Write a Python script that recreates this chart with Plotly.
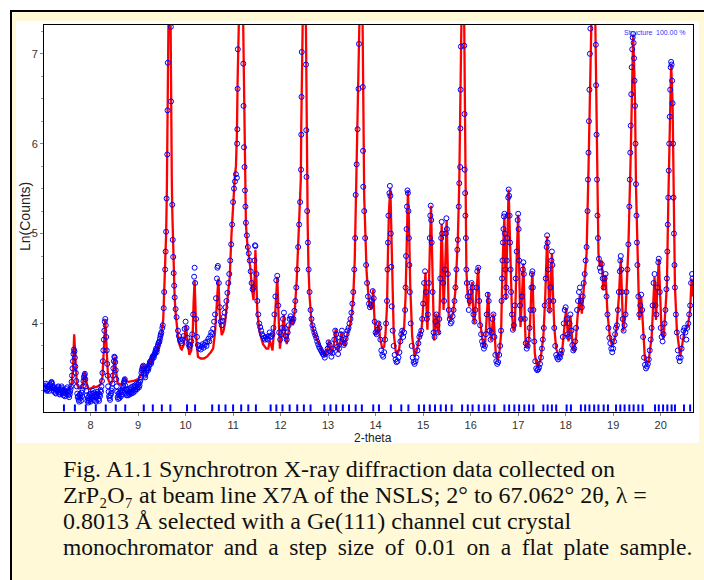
import plotly.graph_objects as go

# ---------------- data ----------------
# calculated profile (2-theta, ln counts)
calc_points = [
    (7.02,3.30),(7.10,3.29),(7.20,3.28),(7.30,3.27),(7.40,3.26),(7.50,3.26),(7.56,3.27),(7.60,3.32),
    (7.63,3.50),(7.655,3.88),(7.68,3.55),(7.71,3.33),(7.75,3.28),(7.80,3.29),(7.84,3.33),(7.86,3.42),
    (7.88,3.47),(7.90,3.40),(7.93,3.30),(7.97,3.27),(8.02,3.28),(8.07,3.30),(8.11,3.29),(8.15,3.30),
    (8.18,3.31),(8.21,3.32),(8.25,3.40),(8.28,3.70),(8.31,4.04),(8.34,3.70),(8.37,3.38),(8.42,3.32),
    (8.46,3.36),(8.49,3.55),(8.51,3.63),(8.53,3.50),(8.57,3.34),(8.62,3.32),(8.67,3.33),(8.70,3.37),
    (8.72,3.40),(8.75,3.36),(8.80,3.35),(8.90,3.36),(9.00,3.38),(9.06,3.42),(9.09,3.51),(9.11,3.54),
    (9.13,3.50),(9.18,3.52),(9.25,3.56),(9.32,3.62),(9.40,3.70),(9.46,3.80),(9.50,3.90),
    (9.53,4.05),(9.55,4.30),(9.57,4.58),(9.59,4.98),(9.605,5.45),(9.615,5.95),(9.62,6.5),(9.63,7.3),
    (9.655,8.2),(9.685,7.3),(9.69,6.6),(9.70,6.1),(9.71,5.6),(9.72,5.25),(9.735,4.85),(9.75,4.55),
    (9.77,4.28),(9.79,4.12),(9.82,3.92),(9.85,3.80),(9.90,3.72),
    (9.92,3.71),(9.96,3.76),(9.99,3.90),(10.01,3.98),(10.04,3.80),(10.08,3.65),(10.12,3.70),(10.15,3.90),
    (10.17,4.25),(10.19,4.48),(10.21,4.15),(10.23,3.80),(10.26,3.63),(10.32,3.61),(10.385,3.61),
    (10.45,3.63),(10.53,3.68),(10.58,3.72),(10.62,3.90),(10.65,4.16),(10.69,4.50),(10.72,4.10),
    (10.76,3.87),(10.80,3.92),(10.83,4.00),(10.86,4.16),(10.93,4.52),(10.965,4.98),(11.00,5.39),
    (11.035,5.62),(11.06,5.75),(11.08,6.1),(11.095,6.7),(11.107,7.32),(11.16,8.3),(11.213,7.32),
    (11.225,6.7),(11.24,5.9),(11.25,5.45),(11.27,5.10),(11.30,4.88),(11.36,4.63),(11.40,4.37),
    (11.43,4.26),(11.455,4.55),(11.47,4.82),(11.49,4.50),(11.51,4.12),(11.56,3.90),(11.63,3.77),
    (11.70,3.72),(11.74,3.72),(11.775,3.81),(11.80,3.74),(11.83,3.70),(11.88,4.05),(11.93,4.52),
    (11.96,4.05),(11.985,3.72),(12.03,3.90),(12.07,4.10),(12.10,3.85),(12.13,3.77),(12.18,3.95),
    (12.22,4.05),(12.26,3.98),(12.30,4.16),(12.34,4.49),(12.37,4.90),(12.41,5.34),(12.425,5.60),
    (12.435,6.2),(12.445,7.3),(12.49,8.3),(12.533,7.3),(12.545,6.2),(12.555,5.5),(12.57,5.1),
    (12.585,4.65),(12.61,4.30),(12.65,4.02),(12.70,3.90),(12.76,3.83),(12.86,3.70),(12.93,3.64),
    (12.98,3.70),(13.02,3.81),(13.05,3.70),(13.08,3.66),(13.12,3.76),(13.16,3.94),(13.19,3.75),
    (13.21,3.68),(13.25,3.78),(13.28,3.90),(13.32,3.78),(13.35,3.75),(13.39,3.85),(13.42,3.90),
    (13.46,3.98),(13.50,4.12),(13.53,4.31),(13.56,4.70),(13.58,5.30),(13.60,5.75),(13.625,6.4),
    (13.648,7.32),(13.69,8.2),(13.726,7.32),(13.735,6.6),(13.745,5.8),(13.76,5.40),(13.775,5.15),
    (13.81,4.57),(13.865,4.20),(13.915,4.16),(13.95,4.38),(13.975,4.05),(14.006,3.87),(14.03,3.90),
    (14.055,3.94),(14.07,4.02),(14.09,3.85),
    (14.14,3.72),(14.18,3.74),(14.21,3.90),(14.24,4.20),(14.26,4.80),(14.28,5.25),(14.31,5.51),
    (14.33,5.05),(14.35,4.35),(14.38,3.90),(14.42,3.70),(14.45,3.65),(14.49,3.70),(14.53,3.85),
    (14.57,3.93),(14.60,3.95),(14.63,4.30),(14.66,5.10),(14.68,5.48),(14.70,5.15),(14.73,4.40),
    (14.77,3.85),(14.82,3.63),(14.86,3.68),(14.90,3.80),(14.93,3.87),(14.97,3.95),(15.00,4.20),
    (15.03,4.50),(15.05,4.57),(15.075,4.10),(15.09,3.93),(15.12,4.40),(15.145,5.05),(15.165,5.31),
    (15.185,4.85),(15.21,4.05),(15.23,3.81),(15.26,4.00),(15.28,4.11),(15.30,3.95),(15.33,3.88),
    (15.355,4.30),(15.375,4.85),(15.39,5.11),(15.41,4.70),(15.43,4.15),(15.46,4.55),(15.48,4.95),
    (15.495,5.15),(15.515,4.70),(15.54,4.07),(15.58,4.05),(15.63,4.11),(15.68,4.37),(15.73,4.93),
    (15.76,5.56),(15.78,6.30),(15.796,7.32),(15.83,8.3),(15.865,7.32),(15.875,6.50),(15.885,5.93),
    (15.90,5.00),(15.91,4.60),(15.935,4.33),(15.97,4.19),(16.00,4.30),(16.03,4.46),(16.06,4.05),
    (16.08,4.00),(16.11,4.25),(16.14,4.55),(16.16,4.63),(16.19,4.05),(16.22,3.93),(16.26,3.78),
    (16.30,3.74),(16.335,4.00),(16.37,4.35),(16.40,3.95),(16.43,3.81),(16.48,4.11),(16.51,3.75),
    (16.53,3.66),(16.57,3.59),(16.61,3.70),(16.64,3.88),(16.67,4.63),(16.71,5.19),(16.74,4.26),
    (16.77,4.90),(16.80,5.49),(16.83,4.90),(16.87,4.10),(16.90,3.92),(16.93,3.95),(16.97,4.75),
    (17.00,5.21),(17.03,4.40),(17.05,3.96),(17.08,4.30),(17.11,4.67),(17.14,4.05),(17.16,3.74),
    (17.21,3.74),(17.25,4.00),(17.28,4.40),(17.30,4.57),(17.33,4.00),(17.35,3.67),(17.38,3.56),
    (17.42,3.52),(17.47,3.60),(17.53,3.85),(17.57,4.30),(17.61,4.97),(17.64,4.40),(17.66,4.11),
    (17.69,4.50),(17.71,4.78),(17.735,4.30),(17.76,3.96),(17.80,3.72),(17.85,3.65),(17.92,3.66),
    (17.96,3.93),(18.01,4.17),(18.04,3.90),(18.06,3.80),(18.10,4.09),(18.13,3.85),(18.15,3.72),
    (18.18,3.69),(18.22,3.85),(18.25,4.08),(18.30,4.32),(18.34,4.11),(18.39,4.41),(18.44,4.78),
    (18.48,5.71),(18.505,6.82),(18.53,7.32),(18.58,8.4),(18.625,7.32),(18.64,6.64),(18.66,5.52),
    (18.69,4.78),(18.72,4.63),(18.76,4.70),(18.79,4.37),(18.84,4.54),(18.88,4.11),(18.93,3.85),
    (18.98,3.74),(19.04,3.85),(19.07,3.94),(19.12,4.30),(19.16,4.72),(19.19,4.20),(19.21,3.91),
    (19.26,4.11),(19.32,4.85),(19.37,5.89),(19.40,6.93),(19.42,7.21),(19.44,6.90),(19.46,6.45),
    (19.48,5.52),(19.52,4.59),(19.55,4.04),(19.59,4.30),(19.62,4.04),(19.67,3.59),(19.74,3.56),
    (19.81,3.85),(19.87,4.52),(19.90,4.04),(19.96,4.72),(20.02,3.89),(20.06,3.83),(20.13,4.41),
    (20.16,5.34),(20.19,6.26),(20.22,6.89),(20.25,6.45),(20.27,5.34),(20.30,4.41),(20.34,3.93),
    (20.41,3.63),(20.48,3.85),(20.51,3.93),(20.57,3.96),(20.62,4.15),(20.65,4.50),(20.68,4.30),
]

# observed data points (2-theta, ln counts)
obs_points = [
    (7.03,3.30),(7.05,3.27),(7.07,3.31),(7.09,3.26),(7.11,3.29),(7.13,3.25),(7.15,3.32),(7.17,3.34),
    (7.19,3.33),(7.21,3.28),(7.23,3.24),(7.25,3.27),(7.27,3.22),(7.29,3.26),(7.31,3.29),(7.33,3.24),
    (7.35,3.21),(7.37,3.27),(7.39,3.30),(7.41,3.24),(7.43,3.20),(7.45,3.25),(7.47,3.22),(7.49,3.27),
    (7.51,3.29),(7.53,3.20),(7.55,3.18),(7.57,3.24),(7.59,3.30),(7.61,3.42),(7.63,3.58),(7.65,3.71),
    (7.67,3.62),(7.69,3.45),(7.71,3.30),(7.73,3.18),(7.75,3.15),(7.77,3.21),(7.79,3.17),(7.81,3.23),
    (7.83,3.26),(7.85,3.36),(7.87,3.42),(7.89,3.38),(7.91,3.25),(7.93,3.14),(7.95,3.12),(7.97,3.19),
    (7.99,3.15),(8.01,3.22),(8.03,3.17),(8.05,3.25),(8.07,3.20),(8.09,3.14),(8.11,3.21),(8.13,3.18),
    (8.15,3.24),(8.17,3.16),(8.19,3.21),(8.21,3.26),(8.23,3.30),(8.25,3.45),(8.27,3.70),(8.29,3.92),
    (8.31,4.05),(8.33,3.85),(8.35,3.55),(8.37,3.30),(8.39,3.19),(8.41,3.15),(8.43,3.22),(8.45,3.28),
    (8.47,3.42),(8.49,3.58),(8.51,3.62),(8.53,3.48),(8.55,3.30),(8.57,3.18),(8.59,3.22),(8.61,3.17),
    (8.63,3.25),(8.65,3.21),(8.67,3.26),(8.69,3.30),(8.71,3.36),(8.73,3.31),(8.75,3.22),(8.77,3.26),
    (8.79,3.20),(8.81,3.27),(8.83,3.23),(8.85,3.29),(8.87,3.24),(8.89,3.30),(8.91,3.26),(8.93,3.31),
    (8.95,3.27),(8.97,3.33),(8.99,3.29),(9.01,3.34),(9.03,3.31),(9.05,3.37),(9.07,3.45),(9.09,3.50),
    (9.11,3.53),(9.13,3.44),(9.15,3.40),(9.17,3.46),(9.19,3.50),(9.21,3.48),(9.23,3.53),(9.25,3.57),
    (9.27,3.55),(9.29,3.60),(9.31,3.63),(9.33,3.62),(9.35,3.66),(9.37,3.70),(9.39,3.68),(9.41,3.74),
    (9.43,3.78),(9.45,3.80),(9.47,3.86),(9.49,3.90),
    (9.51,3.95),(9.52,3.98),(9.54,4.17),(9.55,4.35),(9.57,4.60),(9.58,4.80),(9.59,5.02),(9.60,5.39),
    (9.615,5.88),(9.62,6.37),(9.625,6.90),(9.69,7.30),(9.695,6.47),(9.72,5.32),(9.73,4.93),(9.74,4.74),
    (9.75,4.56),(9.76,4.42),(9.77,4.29),(9.79,4.16),(9.81,4.07),(9.84,3.92),(9.86,3.86),(9.88,3.82),
    (9.90,3.80),(9.92,3.78),(9.94,3.82),(9.96,3.86),(9.98,3.94),(10.00,4.02),(10.02,3.95),(10.04,3.84),
    (10.06,3.77),(10.08,3.74),(10.10,3.76),(10.12,3.80),(10.14,3.88),(10.16,4.10),(10.18,4.52),
    (10.19,4.62),(10.20,4.45),(10.22,4.05),(10.24,3.85),(10.26,3.76),(10.28,3.72),(10.30,3.75),
    (10.32,3.71),(10.34,3.74),(10.36,3.77),(10.38,3.73),(10.40,3.76),(10.42,3.79),(10.44,3.75),
    (10.46,3.80),(10.48,3.83),(10.50,3.80),(10.52,3.86),(10.54,3.90),(10.56,3.88),(10.58,3.94),
    (10.60,4.02),(10.62,4.10),(10.64,4.28),(10.66,4.50),(10.67,4.62),(10.68,4.64),(10.70,4.45),
    (10.72,4.18),(10.74,4.02),(10.76,3.98),(10.78,4.03),(10.80,4.07),(10.82,4.12),(10.84,4.18),
    (10.86,4.25),(10.88,4.34),(10.90,4.45),(10.92,4.55),(10.94,4.70),(10.96,4.88),(10.98,5.10),
    (11.00,5.35),(11.02,5.50),(11.04,5.58),(11.06,5.66),(11.08,5.62),(11.085,6.00),(11.09,6.16),
    (11.095,6.61),(11.10,7.05),(11.215,6.89),(11.22,6.42),(11.23,5.96),(11.24,5.74),(11.25,5.48),
    (11.26,5.30),(11.27,5.12),(11.29,4.98),(11.31,4.85),(11.33,4.78),(11.35,4.70),(11.37,4.58),
    (11.39,4.45),(11.41,4.38),(11.43,4.40),(11.45,4.70),(11.46,4.87),(11.47,4.86),(11.49,4.55),
    (11.51,4.25),(11.53,4.10),(11.55,4.00),(11.57,3.96),(11.59,3.92),(11.61,3.88),(11.63,3.86),
    (11.65,3.84),(11.67,3.82),(11.69,3.85),(11.71,3.83),(11.73,3.82),(11.75,3.86),(11.77,3.90),
    (11.79,3.85),(11.81,3.86),(11.83,3.88),(11.85,3.95),(11.87,4.10),(11.89,4.30),(11.91,4.48),
    (11.93,4.53),(11.95,4.20),(11.97,3.90),(11.99,3.82),(12.01,3.88),(12.03,3.95),(12.05,4.05),
    (12.07,4.12),(12.09,3.95),(12.11,3.86),(12.13,3.82),(12.15,3.90),(12.17,3.98),(12.19,4.05),
    (12.21,4.08),(12.23,4.05),(12.25,4.02),(12.27,4.05),(12.29,4.14),(12.31,4.25),(12.33,4.40),
    (12.35,4.60),(12.37,4.85),(12.39,5.10),(12.41,5.35),(12.43,5.71),(12.435,6.10),(12.44,6.52),
    (12.445,7.02),(12.535,6.88),(12.54,6.15),(12.545,5.63),(12.56,5.25),(12.575,4.90),(12.59,4.60),
    (12.61,4.35),(12.63,4.15),(12.65,4.05),(12.67,3.98),(12.69,3.94),(12.71,3.90),(12.73,3.87),
    (12.75,3.84),(12.77,3.80),(12.79,3.77),(12.81,3.74),(12.83,3.72),(12.85,3.70),(12.87,3.68),
    (12.89,3.66),(12.91,3.65),(12.93,3.62),(12.95,3.66),(12.97,3.68),(12.99,3.72),(13.01,3.79),
    (13.03,3.76),(13.05,3.69),(13.07,3.63),(13.09,3.67),(13.11,3.72),(13.13,3.82),(13.15,3.92),
    (13.17,3.88),(13.19,3.74),(13.21,3.66),(13.23,3.72),(13.25,3.80),(13.27,3.88),(13.29,3.92),
    (13.31,3.82),(13.33,3.76),(13.35,3.78),(13.37,3.83),(13.39,3.88),(13.41,3.92),(13.43,3.95),
    (13.45,4.00),(13.47,4.05),(13.49,4.12),(13.51,4.22),(13.53,4.35),(13.55,4.60),(13.57,4.95),
    (13.58,5.43),(13.60,5.77),(13.62,6.16),(13.64,6.61),(13.65,7.11),(13.73,6.63),(13.735,5.92),
    (13.74,5.52),(13.76,5.25),(13.78,4.95),(13.80,4.65),(13.82,4.45),(13.84,4.30),(13.86,4.22),
    (13.88,4.18),(13.90,4.20),(13.92,4.25),(13.94,4.36),(13.96,4.28),(13.98,4.02),(14.00,3.90),
    (14.02,3.88),(14.04,3.93),(14.06,4.00),(14.08,3.95),(14.10,3.82),(14.12,3.70),(14.14,3.65),
    (14.16,3.63),(14.18,3.68),(14.20,3.82),(14.22,4.00),(14.24,4.25),(14.25,4.60),(14.26,4.90),
    (14.27,5.20),(14.29,5.45),(14.30,5.53),(14.31,5.42),(14.32,5.00),(14.33,4.63),(14.34,4.19),
    (14.36,3.92),(14.38,3.75),(14.40,3.65),(14.42,3.60),(14.44,3.57),(14.46,3.58),(14.48,3.62),
    (14.50,3.68),(14.52,3.80),(14.54,3.88),(14.56,3.92),(14.58,3.85),(14.60,3.90),(14.62,4.15),
    (14.63,4.40),(14.64,4.75),(14.65,5.05),(14.66,5.30),(14.67,5.48),(14.68,5.45),(14.69,5.25),
    (14.70,4.95),(14.71,4.65),(14.72,4.35),(14.74,4.00),(14.76,3.75),(14.78,3.62),(14.80,3.57),
    (14.82,3.55),(14.84,3.58),(14.86,3.62),(14.88,3.70),(14.90,3.78),(14.92,3.85),(14.94,3.88),
    (14.96,3.92),(14.98,4.05),(15.00,4.22),(15.02,4.45),(15.04,4.58),(15.06,4.35),(15.08,4.05),
    (15.10,4.10),(15.12,4.45),(15.14,4.95),(15.15,5.20),(15.16,5.31),(15.17,5.15),(15.18,4.90),
    (15.20,4.35),(15.22,3.90),(15.24,3.85),(15.26,4.02),(15.28,4.10),(15.30,3.98),(15.32,3.90),
    (15.34,4.05),(15.36,4.50),(15.38,4.95),(15.39,5.13),(15.40,5.00),(15.42,4.45),(15.44,4.25),
    (15.46,4.60),(15.48,5.00),(15.49,5.17),(15.50,5.05),(15.52,4.55),(15.54,4.15),(15.56,4.05),
    (15.58,4.00),(15.60,4.02),(15.62,4.08),(15.64,4.15),(15.66,4.25),(15.68,4.40),(15.70,4.60),
    (15.72,4.82),(15.73,4.93),(15.75,5.30),(15.76,5.56),(15.78,5.74),(15.785,6.17),(15.79,6.60),
    (15.795,7.08),(15.865,7.09),(15.87,6.33),(15.875,5.71),(15.885,5.45),(15.89,5.20),(15.90,4.95),
    (15.91,4.60),(15.92,4.45),(15.94,4.30),(15.96,4.15),(15.98,4.25),(16.00,4.35),(16.02,4.45),
    (16.04,4.40),(16.06,4.10),(16.08,4.02),(16.10,4.15),(16.12,4.40),(16.14,4.58),(16.16,4.62),
    (16.18,4.25),(16.20,3.98),(16.22,3.88),(16.24,3.80),(16.26,3.76),(16.28,3.72),(16.30,3.75),
    (16.32,3.88),(16.34,4.10),(16.36,4.32),(16.38,4.25),(16.40,3.92),(16.42,3.82),(16.44,3.90),
    (16.46,4.05),(16.48,4.10),(16.50,3.85),(16.52,3.65),(16.54,3.58),(16.56,3.55),(16.58,3.57),
    (16.60,3.65),(16.62,3.75),(16.64,3.92),(16.65,4.25),(16.66,4.50),(16.67,4.70),(16.68,4.90),
    (16.69,5.05),(16.70,5.19),(16.71,5.22),(16.72,5.00),(16.73,4.60),(16.74,4.30),(16.75,4.40),
    (16.76,4.70),(16.77,4.95),(16.78,5.20),(16.79,5.40),(16.80,5.49),(16.81,5.42),(16.82,5.20),
    (16.83,4.90),(16.84,4.60),(16.85,4.35),(16.87,4.10),(16.89,3.93),(16.91,3.98),(16.93,4.20),
    (16.95,4.50),(16.97,4.80),(16.99,5.15),(17.00,5.22),(17.01,5.05),(17.02,4.70),(17.04,4.20),
    (17.06,4.05),(17.08,4.30),(17.10,4.60),(17.11,4.68),(17.12,4.55),(17.14,4.05),(17.16,3.78),
    (17.18,3.72),(17.20,3.75),(17.22,3.82),(17.24,3.95),(17.26,4.15),(17.28,4.40),(17.29,4.55),
    (17.30,4.58),(17.31,4.40),(17.32,4.15),(17.34,3.80),(17.36,3.58),(17.38,3.50),(17.40,3.48),
    (17.42,3.49),(17.44,3.51),(17.46,3.55),(17.48,3.62),(17.50,3.72),(17.52,3.82),(17.54,3.95),
    (17.56,4.20),(17.58,4.50),(17.60,4.85),(17.61,4.98),(17.62,4.90),(17.63,4.60),(17.65,4.25),
    (17.66,4.15),(17.68,4.40),(17.70,4.70),(17.71,4.80),(17.72,4.65),(17.74,4.25),(17.76,3.95),
    (17.78,3.75),(17.80,3.65),(17.82,3.62),(17.84,3.60),(17.86,3.63),(17.88,3.62),(17.90,3.66),
    (17.92,3.70),(17.94,3.85),(17.96,4.00),(17.98,4.15),(18.00,4.18),(18.02,4.05),(18.04,3.88),
    (18.06,3.85),(18.08,4.00),(18.10,4.10),(18.12,3.92),(18.14,3.76),(18.16,3.70),(18.18,3.72),
    (18.20,3.80),(18.22,3.95),(18.24,4.15),(18.26,4.25),(18.28,4.35),(18.30,4.40),(18.32,4.25),
    (18.34,4.18),(18.36,4.30),(18.38,4.45),(18.40,4.55),(18.42,4.70),(18.44,4.85),(18.46,5.25),
    (18.47,5.60),(18.48,5.90),(18.49,6.25),(18.50,6.60),(18.51,7.00),(18.52,7.28),(18.635,7.10),
    (18.64,6.65),(18.65,6.10),(18.66,5.60),(18.67,5.20),(18.68,4.95),(18.70,4.72),(18.72,4.62),
    (18.74,4.58),(18.76,4.66),(18.78,4.50),(18.80,4.40),(18.82,4.50),(18.84,4.55),(18.86,4.30),
    (18.88,4.10),(18.90,3.95),(18.92,3.84),(18.94,3.78),(18.96,3.72),(18.98,3.68),(19.00,3.72),
    (19.02,3.80),(19.04,3.88),(19.06,3.95),(19.08,3.98),(19.10,4.15),(19.12,4.35),(19.14,4.58),
    (19.15,4.70),(19.16,4.75),(19.17,4.60),(19.18,4.35),(19.20,4.05),(19.22,3.92),(19.24,3.98),
    (19.26,4.10),(19.28,4.35),(19.30,4.60),(19.32,4.88),(19.34,5.30),(19.35,5.60),(19.36,5.90),
    (19.37,6.20),(19.38,6.55),(19.39,6.85),(19.40,7.05),(19.41,7.18),(19.42,7.22),(19.43,7.12),
    (19.44,6.95),(19.45,6.70),(19.46,6.42),(19.47,6.00),(19.48,5.55),(19.49,5.20),(19.50,4.90),
    (19.51,4.65),(19.53,4.30),(19.55,4.10),(19.57,4.20),(19.59,4.32),(19.61,4.15),(19.63,3.85),
    (19.65,3.62),(19.67,3.54),(19.69,3.50),(19.71,3.52),(19.73,3.55),(19.75,3.60),(19.77,3.70),
    (19.79,3.82),(19.81,3.95),(19.83,4.20),(19.85,4.45),(19.87,4.55),(19.89,4.20),(19.91,4.10),
    (19.93,4.40),(19.95,4.68),(19.96,4.72),(19.98,4.35),(20.00,3.95),(20.02,3.85),(20.04,3.80),
    (20.06,3.88),(20.08,4.00),(20.10,4.15),(20.12,4.38),(20.13,4.50),(20.14,4.80),(20.15,5.10),
    (20.16,5.40),(20.17,5.70),(20.18,6.00),(20.19,6.30),(20.20,6.60),(20.21,6.85),(20.22,6.91),
    (20.23,6.88),(20.24,6.70),(20.25,6.45),(20.26,6.00),(20.27,5.40),(20.28,5.00),(20.29,4.65),
    (20.30,4.40),(20.32,4.10),(20.34,3.90),(20.36,3.70),(20.38,3.62),(20.40,3.58),(20.42,3.62),
    (20.44,3.72),(20.46,3.85),(20.48,3.92),(20.50,3.95),(20.52,3.90),(20.54,3.82),(20.56,3.95),
    (20.58,4.00),(20.60,4.10),(20.62,4.20),(20.64,4.45),(20.66,4.55),(20.67,4.50),
]

# extra observed points in the noisy low-angle background (intermediate steps)
obs_points_low = [
    (7.04,3.28),(7.06,3.33),(7.08,3.25),(7.10,3.30),(7.12,3.27),(7.14,3.31),(7.16,3.28),(7.18,3.35),
    (7.20,3.30),(7.22,3.26),(7.24,3.29),(7.26,3.23),(7.28,3.28),(7.30,3.25),(7.32,3.30),(7.34,3.22),
    (7.36,3.26),(7.38,3.23),(7.40,3.28),(7.42,3.22),(7.44,3.26),(7.46,3.19),(7.48,3.24),(7.50,3.21),
    (7.52,3.25),(7.54,3.23),(7.56,3.21),(7.58,3.27),(7.60,3.35),(7.62,3.50),(7.64,3.66),(7.66,3.69),
    (7.68,3.52),(7.70,3.36),(7.72,3.22),(7.74,3.19),(7.76,3.13),(7.78,3.20),(7.80,3.14),(7.82,3.19),
    (7.84,3.30),(7.86,3.40),(7.88,3.44),(7.90,3.30),(7.92,3.20),(7.94,3.17),(7.96,3.14),(7.98,3.21),
    (8.00,3.13),(8.02,3.19),(8.04,3.22),(8.06,3.15),(8.08,3.23),(8.10,3.18),(8.12,3.13),(8.14,3.20),
    (8.16,3.22),(8.18,3.14),(8.20,3.19),(8.22,3.24),(8.24,3.36),(8.26,3.58),(8.28,3.82),(8.30,4.02),
    (8.32,3.98),(8.34,3.70),(8.36,3.42),(8.38,3.24),(8.40,3.17),(8.42,3.20),(8.44,3.25),(8.46,3.33),
    (8.48,3.50),(8.50,3.63),(8.52,3.57),(8.54,3.38),(8.56,3.24),(8.58,3.16),(8.60,3.20),(8.62,3.23),
    (8.64,3.19),(8.66,3.24),(8.68,3.28),(8.70,3.34),(8.72,3.38),(8.74,3.27),(8.76,3.20),(8.78,3.24),
    (8.80,3.22),(8.82,3.21),(8.84,3.26),(8.86,3.22),(8.88,3.27),(8.90,3.23),(8.92,3.29),(8.94,3.25),
    (8.96,3.30),(8.98,3.27),(9.00,3.32),(9.02,3.29),(9.04,3.35),(9.06,3.40),(9.08,3.48),(9.10,3.52),
    (9.12,3.49),(9.14,3.42),(9.16,3.44),(9.18,3.48),(9.20,3.51),(9.22,3.50),(9.24,3.55),(9.26,3.58),
    (9.28,3.57),(9.30,3.62),(9.32,3.64),(9.34,3.65),(9.36,3.68),(9.38,3.72),(9.40,3.71),(9.42,3.76),
    (9.44,3.79),(9.46,3.83),(9.48,3.88),
]

# Bragg reflection positions (blue tick marks)
reflection_2theta = [
    7.44, 7.67, 7.90, 8.11, 8.32, 8.53, 8.73, 9.12, 9.31, 9.50, 9.68, 10.03, 10.20, 10.56, 10.70,
    10.84, 11.00, 11.17, 11.32, 11.48, 11.79, 11.91, 12.04, 12.19, 12.35, 12.49, 12.63, 12.92,
    13.05, 13.17, 13.31, 13.44, 13.58, 13.71, 13.95, 14.07, 14.32, 14.54, 14.69, 14.91, 15.02,
    15.14, 15.25, 15.37, 15.48, 15.60, 15.82, 15.94, 16.04, 16.17, 16.29, 16.39, 16.50, 16.71,
    16.81, 16.92, 17.02, 17.13, 17.23, 17.32, 17.53, 17.62, 17.71, 17.80, 18.02, 18.11, 18.32,
    18.41, 18.50, 18.60, 18.69, 18.80, 18.89, 19.06, 19.15, 19.24, 19.34, 19.43, 19.53, 19.62,
    19.88, 19.96, 20.05, 20.14, 20.23, 20.30, 20.49, 20.62,
]

x_tick_values = [8, 9, 10, 11, 12, 13, 14, 15, 16, 17, 18, 19, 20]
y_tick_values = [4, 5, 6, 7]

last_line_words = ["monochromator", "and", "a", "step", "size", "of", "0.01", "on", "a", "flat",
                   "plate", "sample."]
caption_lines = [
    "Fig. A1.1 Synchrotron X-ray diffraction data collected on",
    "ZrP\u2082O\u2087 at beam line X7A of the NSLS; 2\u00b0 to 67.062\u00b0 2\u03b8, \u03bb =",
    "0.8013 \u00c5 selected with a Ge(111) channel cut crystal",
    " \u2009".join(last_line_words),
]
caption_sizes = [24, 24, 24, 23.5]

calc_2theta = [p[0] for p in calc_points]
calc_ln = [p[1] for p in calc_points]
all_obs = obs_points + obs_points_low
obs_2theta = [p[0] for p in all_obs]
obs_ln = [p[1] for p in all_obs]

# ---------------- layout geometry (pixels) ----------------
W, H = 704, 580
L, R, T, B = 44, 693, 25, 412


def px(xp):
    return (xp - L) / (R - L)


def py(yp):
    return (B - yp) / (B - T)


fig = go.Figure()

fig.add_trace(go.Scatter(
    x=calc_2theta, y=calc_ln, mode="lines",
    line=dict(color="#FF0000", width=2.3), hoverinfo="skip"))

fig.add_trace(go.Scatter(
    x=obs_2theta, y=obs_ln, mode="markers",
    marker=dict(symbol="circle-open", size=5, color="#0000FF", line=dict(width=1, color="#0000FF")),
    hoverinfo="skip"))

fig.add_trace(go.Scatter(
    x=reflection_2theta, y=[3.06] * len(reflection_2theta), mode="markers",
    marker=dict(symbol="line-ns", size=5, line=dict(width=2, color="#0000FF")),
    hoverinfo="skip"))

shapes = [
    dict(type="rect", xref="paper", yref="paper", layer="below",
         x0=px(11), x1=px(730), y0=py(600), y1=py(11),
         line=dict(color="black", width=2), fillcolor="#FFF9D8"),
    dict(type="rect", xref="paper", yref="paper", layer="below",
         x0=px(16), x1=px(699), y0=py(443), y1=py(21),
         line=dict(width=0), fillcolor="white"),
]

annotations = [
    dict(text="Ln(Counts)", xref="paper", yref="paper", x=px(25), y=py(217),
         textangle=-90, showarrow=False, xanchor="center", yanchor="middle",
         font=dict(family="Liberation Sans, Arial", size=14, color="#222222")),
    dict(text="2-theta", xref="paper", yref="paper", x=px(373), y=py(438),
         showarrow=False, xanchor="center", yanchor="middle",
         font=dict(family="Liberation Sans, Arial", size=12, color="#222222")),
    dict(text="Structure", xref="paper", yref="paper", x=px(654.5), y=py(32.5),
         showarrow=False, xanchor="right", yanchor="middle",
         font=dict(family="Liberation Sans, Arial", size=7, color="#3333FF")),
    dict(text="100.00 %", xref="paper", yref="paper", x=px(688), y=py(32.5),
         showarrow=False, xanchor="right", yanchor="middle",
         font=dict(family="Liberation Sans, Arial", size=7, color="#3333FF")),
]

caption_y = [469, 495, 521, 547]
for line_text, yc, fs in zip(caption_lines, caption_y, caption_sizes):
    annotations.append(dict(
        text=line_text, xref="paper", yref="paper", x=px(61), y=py(yc),
        showarrow=False, xanchor="left", yanchor="middle",
        font=dict(family="Liberation Serif, Times New Roman", size=fs, color="#111111")))

fig.update_layout(
    width=W, height=H,
    margin=dict(l=L, r=W - R, t=T, b=H - B, pad=0),
    paper_bgcolor="white", plot_bgcolor="white",
    showlegend=False,
    shapes=shapes, annotations=annotations,
    xaxis=dict(range=[7.02, 20.68], tickvals=x_tick_values, ticks="outside", ticklen=3,
               tickcolor="#888888", tickwidth=1, showline=True, linecolor="black", linewidth=1,
               mirror=True, showgrid=False, zeroline=False,
               tickfont=dict(family="Liberation Sans, Arial", size=11, color="#333333")),
    yaxis=dict(range=[3.015, 7.32], tickvals=y_tick_values, ticks="outside", ticklen=3,
               tickcolor="#888888", tickwidth=1, showline=True, linecolor="black", linewidth=1,
               mirror=True, showgrid=False, zeroline=False,
               minor=dict(dtick=0.25, tick0=0, ticks="outside", ticklen=2, tickcolor="#999999"),
               tickfont=dict(family="Liberation Sans, Arial", size=11, color="#333333")),
)

fig.write_html("out.html")
